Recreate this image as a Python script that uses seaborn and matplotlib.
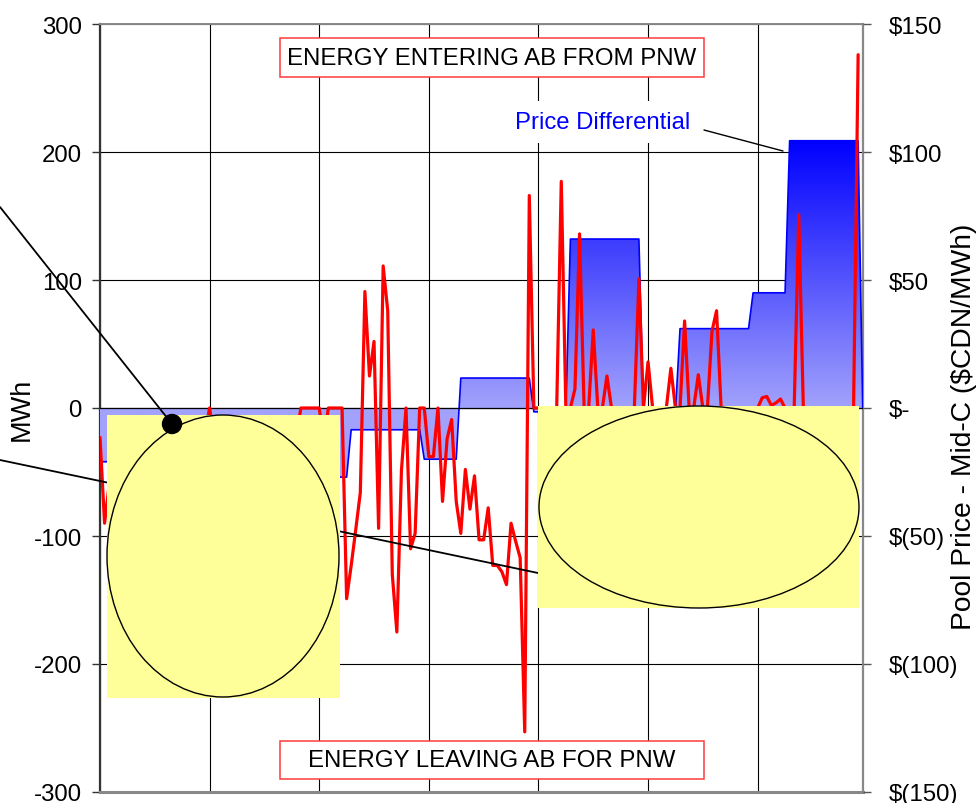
import numpy as np
import matplotlib
matplotlib.use("Agg")
import matplotlib.pyplot as plt
import seaborn as sns
from matplotlib import font_manager as fm
from matplotlib.patches import Rectangle, Ellipse, PathPatch
from matplotlib.lines import Line2D

# ---------------- data ----------------
hours = list(range(168))

# Hourly flow, MWh (left axis), hours 0..166
flow_mwh = [
    -23, -90, -60, -45, -70, -55, -40, -65, -80, -50, -35, -60,
    -75, -45, -30, -55, -70, -60, -40, -50, -65, -45, -30, -20,
    0, -25, -50, -70, -55, -40, -60, -75, -50, -35, -45, -65,
    -55, -40, -30, -50, -60, -45, -35, -20, 0, 0, 0, 0,
    0, -25, 0, 0, 0, 0, -149, -123, -95, -66, 91, 25,
    52, -94, 111, 76, -130, -175, -49, 0, -110, -98, 0, 0,
    -38, -38, 0, -73, -24, -9, -73, -98, -48, -79, -53, -103,
    -103, -78, -123, -123, -128, -138, -90, -104, -117, -253, 166, 0,
    0, 0, 0, 0, 0, 177, 0, 0, 15, 136, 0, 0,
    61, 0, 0, 25, 0, -20, -35, -10, 0, 0, 101, 0,
    36, 0, -15, 0, 0, 31, 0, 0, 68, 0, 0, 26,
    0, 0, 60, 76, 0, 0, -10, -25, -15, 0, 0, 0,
    0, 8, 9, 2, 4, 7, 0, 0, 0, 151, 0, 0,
    0, -20, -30, -15, 0, 0, 0, 0, 0, 0, 276,
]

# Pool Price - Mid-C differential, $CDN/MWh (right axis), hours 0..167
price_diff = [
    -21, -21, -21, -21, -21, -21, -21, -21, -21, -21, -21, -21,
    -21, -21, -21, -21, -21, -21, -21, -21, -21, -21, -21, -21,
    -21, -21, -21, -21, -21, -21, -21, -27, -27, -27, -27, -27,
    -27, -27, -27, -27, -27, -27, -27, -27, -27, -27, -27, -27,
    -27, -27, -27, -27, -27, -27, -27, -8.5, -8.5, -8.5, -8.5, -8.5,
    -8.5, -8.5, -8.5, -8.5, -8.5, -8.5, -8.5, -8.5, -8.5, -8.5, -8.5, -20,
    -20, -20, -20, -20, -20, -20, -20, 11.7, 11.7, 11.7, 11.7, 11.7,
    11.7, 11.7, 11.7, 11.7, 11.7, 11.7, 11.7, 11.7, 11.7, 11.7, 11.7, -1.5,
    -1.5, -1.5, -1.5, -1.5, -1.5, -1.5, -1.5, 66, 66, 66, 66, 66,
    66, 66, 66, 66, 66, 66, 66, 66, 66, 66, 66, -1.5,
    -1.5, -1.5, -1.5, -1.5, -1.5, -1.5, -1.5, 31, 31, 31, 31, 31,
    31, 31, 31, 31, 31, 31, 31, 31, 31, 31, 31, 45,
    45, 45, 45, 45, 45, 45, 45, 104.4, 104.4, 104.4, 104.4, 104.4,
    104.4, 104.4, 104.4, 104.4, 104.4, 104.4, 104.4, 104.4, 104.4, 104.4, 104.4, 0,
]

mwh_ticks = [-300, -200, -100, 0, 100, 200, 300]
mwh_labels = ["-300", "-200", "-100", "0", "100", "200", "300"]
price_ticks = [-150, -100, -50, 0, 50, 100, 150]
price_labels = ["$(150)", "$(100)", "$(50)", "$-", "$50", "$100", "$150"]
day_ticks = [0, 24, 48, 72, 96, 120, 144]

title_in = "ENERGY ENTERING AB FROM PNW"
title_out = "ENERGY LEAVING AB FOR PNW"
series_label = "Price Differential"
left_label = "MWh"
right_label = "Pool Price - Mid-C ($CDN/MWh)"

# ---------------- style ----------------
sns.set_style("white")
names = {f.name for f in fm.fontManager.ttflist}
BASE = "Liberation Sans" if "Liberation Sans" in names else "DejaVu Sans"
NARROW = "Liberation Sans Narrow" if "Liberation Sans Narrow" in names else None
plt.rcParams["font.family"] = [BASE, "DejaVu Sans"]
plt.rcParams["text.color"] = "black"
plt.rcParams["axes.labelcolor"] = "black"
if NARROW:
    HFAM = [NARROW, BASE, "DejaVu Sans"]
    TICK_FS, BOX_FS, SER_FS = 20, 21, 20.5
else:
    HFAM = [BASE, "DejaVu Sans"]
    TICK_FS, BOX_FS, SER_FS = 17.3, 17.3, 17.2

W, H = 977, 804
fig = plt.figure(figsize=(W / 100, H / 100), dpi=100)
fig.patch.set_facecolor("white")


def fx(px):
    return px / W


def fy(py):
    return 1 - py / H


X0, X1, Y0, Y1 = 100, 862.7, 25, 793
rect = [fx(X0), fy(Y1), fx(X1) - fx(X0), fy(Y0) - fy(Y1)]
XMAX = 167

# base axes: MWh scale + grid
ax = fig.add_axes(rect)
ax.set_zorder(1)
ax.set_xlim(0, XMAX)
ax.set_ylim(-300, 300)
ax.set_yticks(mwh_ticks)
ax.set_yticklabels(mwh_labels, fontfamily=HFAM, fontsize=TICK_FS)
ax.set_xticks(day_ticks)
ax.set_xticklabels([])
ax.tick_params(axis="x", length=0)
ax.tick_params(axis="y", direction="out", length=6, width=1, color="#333333",
               pad=7, labelcolor="black")
ax.grid(True, color="black", lw=0.8)
ax.set_axisbelow(True)
for s in ax.spines.values():
    s.set_visible(False)
ax.set_ylabel(left_label, fontsize=19.5, labelpad=0, color="black")
ax.yaxis.label.set_verticalalignment("center")
ax.yaxis.label.set_horizontalalignment("center")
ax.yaxis.set_label_coords((22 - X0) / (X1 - X0), 0.5)

# price axes
ax2 = ax.twinx()
ax2.set_zorder(2)
ax2.patch.set_visible(False)
poly = ax2.fill_between(hours, 0, price_diff, facecolor="none", edgecolor="none")
path = poly.get_paths()[0]
vals = np.linspace(-40, 110, 400)
t = np.clip(vals / 104.4, 0, 1)
img = np.zeros((len(vals), 1, 3))
img[:, 0, 0] = (162 * (1 - t)) / 255
img[:, 0, 1] = (162 * (1 - t)) / 255
img[:, 0, 2] = (252 + 3 * t) / 255
im = ax2.imshow(img, extent=(0, XMAX, -40, 110), origin="lower", aspect="auto",
                interpolation="bilinear", zorder=1)
clip = PathPatch(path, transform=ax2.transData, facecolor="none", edgecolor="none")
ax2.add_patch(clip)
im.set_clip_path(clip)
sns.lineplot(x=hours, y=price_diff, ax=ax2, color="#0000ff", lw=1.2, zorder=2)
ax2.set_xlim(0, XMAX)
ax2.set_ylim(-150, 150)
ax2.set_yticks(price_ticks)
ax2.set_yticklabels(price_labels, fontfamily=HFAM, fontsize=TICK_FS)
ax2.tick_params(axis="y", direction="out", length=6, width=1, color="#555555",
                pad=13, labelcolor="black")
ax2.set_ylabel(right_label, fontsize=20.3, rotation=90, color="black")
ax2.yaxis.label.set_verticalalignment("center")
ax2.yaxis.label.set_horizontalalignment("center")
ax2.yaxis.set_label_coords((964 - X0) / (X1 - X0), (Y1 - 426.5) / (Y1 - Y0))
ax2.spines["left"].set_color("#333333")
ax2.spines["left"].set_linewidth(1.6)
ax2.spines["bottom"].set_color("#888888")
ax2.spines["bottom"].set_linewidth(2.2)
ax2.spines["top"].set_color("#888888")
ax2.spines["top"].set_linewidth(1.4)
ax2.spines["right"].set_color("#888888")
ax2.spines["right"].set_linewidth(1.6)
for s in ax2.spines.values():
    s.set_zorder(0.5)

# flow axes (on top)
ax3 = fig.add_axes(rect, sharex=ax)
ax3.set_zorder(3)
ax3.patch.set_visible(False)
ax3.set_ylim(-300, 300)
ax3.axis("off")
ax3.axhline(0, color="black", lw=0.9, zorder=1)
sns.lineplot(x=hours[:len(flow_mwh)], y=flow_mwh, ax=ax3, color="#ff0000",
             lw=2.3, zorder=2)
ax3.set_xlim(0, XMAX)

# ---------------- annotation overlays (figure pixels) ----------------
def add_rect(x0, y0, x1, y1, **kw):
    r = Rectangle((fx(x0), fy(y1)), fx(x1) - fx(x0), fy(y0) - fy(y1),
                  transform=fig.transFigure, **kw)
    fig.add_artist(r)
    return r


def add_ellipse(cx, cy, w, h, **kw):
    e = Ellipse((fx(cx), fy(cy)), w / W, h / H, transform=fig.transFigure, **kw)
    fig.add_artist(e)
    return e


def add_line(x0, y0, x1, y1, **kw):
    ln = Line2D([fx(x0), fx(x1)], [fy(y0), fy(y1)], transform=fig.transFigure, **kw)
    fig.add_artist(ln)
    return ln


# leader line passing behind the first yellow panel
add_line(0, 461, 538, 574, color="black", lw=1.3, zorder=9)

add_rect(107, 416, 340, 699, facecolor="#ffff99", edgecolor="none", zorder=10)
add_ellipse(223, 557, 232, 282, facecolor="none", edgecolor="black", lw=1.0, zorder=11)
add_rect(538, 407, 859, 609, facecolor="#ffff99", edgecolor="none", zorder=10)
add_ellipse(699, 508, 320, 202, facecolor="none", edgecolor="black", lw=1.0, zorder=11)

add_line(0, 208, 172, 425, color="black", lw=1.3, zorder=12)
add_ellipse(172, 425, 19, 19, facecolor="black", edgecolor="black", zorder=13)

# text boxes
add_rect(280, 39, 704, 78, facecolor="white", edgecolor="#ff3b3b", lw=1.1, zorder=10)
fig.text(fx(492), fy(59), title_in, ha="center", va="center", fontsize=BOX_FS,
         family=HFAM, color="black", zorder=11)
add_rect(280, 742, 704, 780, facecolor="white", edgecolor="#ff3b3b", lw=1.1, zorder=10)
fig.text(fx(492), fy(761), title_out, ha="center", va="center", fontsize=BOX_FS,
         family=HFAM, color="black", zorder=11)

add_rect(506, 102, 700, 144, facecolor="white", edgecolor="none", zorder=8)
fig.text(fx(603), fy(123), series_label, ha="center", va="center", fontsize=SER_FS,
         family=HFAM, color="#0000ff", zorder=11)
add_line(704, 131, 783, 152, color="black", lw=1.0, zorder=12)

fig.savefig("out.png", dpi=100, facecolor="white")
